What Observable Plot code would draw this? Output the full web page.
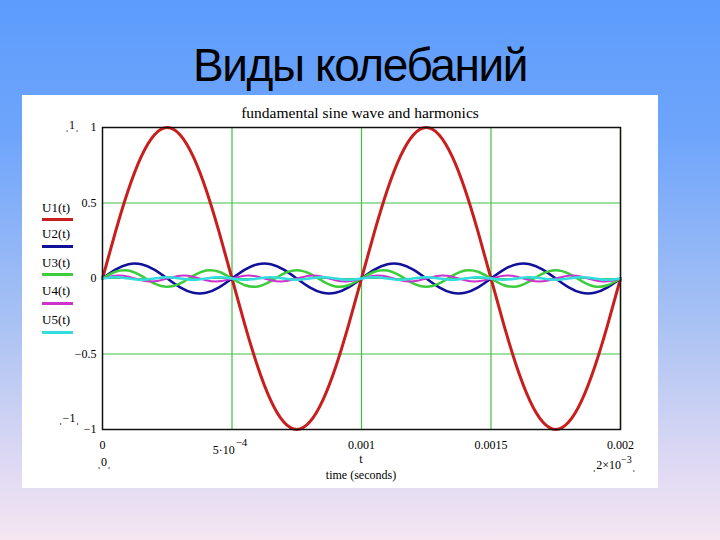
<!DOCTYPE html>
<html>
<head>
<meta charset="utf-8">
<script src="https://cdn.jsdelivr.net/npm/d3@7"></script>
<script src="https://cdn.jsdelivr.net/npm/@observablehq/plot@0.6"></script>
<style>
html,body{margin:0;padding:0;width:720px;height:540px;overflow:hidden}
body{position:relative;background:linear-gradient(to bottom,#5d9cfc 0%,#6ea5fb 25%,#a9c2f3 60%,#dcd8f3 85%,#f5e6f2 100%);font-family:"Liberation Sans",Arial,sans-serif}
#title{position:absolute;left:0;top:42px;width:720px;text-align:center;font-size:46px;line-height:46px;letter-spacing:-1.4px;color:#000}
#panel{position:absolute;left:22px;top:95px;width:636px;height:393px;background:#fff}
#panel svg{display:block;position:absolute;left:0;top:0}
.lab{position:absolute;font-family:"Liberation Serif","Times New Roman",serif;font-size:12px;line-height:14px;white-space:nowrap;color:#000;transform:translate(-50%,-50%)}
.leg{position:absolute;font-family:"Liberation Serif","Times New Roman",serif;font-size:13px;line-height:14px;white-space:nowrap;color:#000}
.sw{position:absolute;width:31px;height:3px}
</style>
</head>
<body>
<div id="title">Виды колебаний</div>
<div id="panel"></div>
<script>
const time = [0, 0.00005, 0.0001, 0.00015, 0.0002, 0.00025, 0.0003, 0.00035, 0.0004, 0.00045,
  0.0005, 0.00055, 0.0006, 0.00065, 0.0007, 0.00075, 0.0008, 0.00085, 0.0009, 0.00095,
  0.001, 0.00105, 0.0011, 0.00115, 0.0012, 0.00125, 0.0013, 0.00135, 0.0014, 0.00145,
  0.0015, 0.00155, 0.0016, 0.00165, 0.0017, 0.00175, 0.0018, 0.00185, 0.0019, 0.00195, 0.002];

const U1 = [0, 0.309, 0.588, 0.809, 0.951, 1, 0.951, 0.809, 0.588, 0.309,
  0, -0.309, -0.588, -0.809, -0.951, -1, -0.951, -0.809, -0.588, -0.309,
  0, 0.309, 0.588, 0.809, 0.951, 1, 0.951, 0.809, 0.588, 0.309,
  0, -0.309, -0.588, -0.809, -0.951, -1, -0.951, -0.809, -0.588, -0.309, 0];

const U2 = [0, 0.059, 0.095, 0.095, 0.059, 0, -0.059, -0.095, -0.095, -0.059,
  0, 0.059, 0.095, 0.095, 0.059, 0, -0.059, -0.095, -0.095, -0.059,
  0, 0.059, 0.095, 0.095, 0.059, 0, -0.059, -0.095, -0.095, -0.059,
  0, 0.059, 0.095, 0.095, 0.059, 0, -0.059, -0.095, -0.095, -0.059, 0];

const U3 = [0, 0.0445, 0.0523, 0.017, -0.0323, -0.055, -0.0323, 0.017, 0.0523, 0.0445,
  0, -0.0445, -0.0523, -0.017, 0.0323, 0.055, 0.0323, -0.017, -0.0523, -0.0445,
  0, 0.0445, 0.0523, 0.017, -0.0323, -0.055, -0.0323, 0.017, 0.0523, 0.0445,
  0, -0.0445, -0.0523, -0.017, 0.0323, 0.055, 0.0323, -0.017, -0.0523, -0.0445, 0];

const U4 = [0, 0.019, 0.012, -0.012, -0.019, 0, 0.019, 0.012, -0.012, -0.019,
  0, 0.019, 0.012, -0.012, -0.019, 0, 0.019, 0.012, -0.012, -0.019,
  0, 0.019, 0.012, -0.012, -0.019, 0, 0.019, 0.012, -0.012, -0.019,
  0, 0.019, 0.012, -0.012, -0.019, 0, 0.019, 0.012, -0.012, -0.019, 0];

const U5 = [0, 0.008, 0, -0.008, 0, 0.008, 0, -0.008, 0, 0.008,
  0, -0.008, 0, 0.008, 0, -0.008, 0, 0.008, 0, -0.008,
  0, 0.008, 0, -0.008, 0, 0.008, 0, -0.008, 0, 0.008,
  0, -0.008, 0, 0.008, 0, -0.008, 0, 0.008, 0, -0.008, 0];

const seriesNames = ["U1(t)", "U2(t)", "U3(t)", "U4(t)", "U5(t)"];
const seriesColors = ["#c81e1e", "#10109a", "#3ccc3c", "#cc33cc", "#33dddd"];
const seriesWidths = [3, 2.5, 2.5, 2, 2.5];
const seriesValues = [U1, U2, U3, U4, U5];

const xTicks = [0, 0.0005, 0.001, 0.0015, 0.002];
const xTickLabels = ["0", "", "0.001", "0.0015", "0.002"];
const xSciTick = ["5·10", "−4"];
const yTicks = [-1, -0.5, 0, 0.5, 1];
const yTickLabels = ["−1", "−0.5", "0", "0.5", "1"];
const xGrid = [0.0005, 0.001, 0.0015, 0.002];
const yGrid = [-0.5, 0, 0.5];

const chartTitle = "fundamental sine wave and harmonics";
const xVarLabel = "t";
const xUnitLabel = "time (seconds)";

const gridColor = "#40c040";

const lineMarks = seriesValues.map((vals, k) =>
  Plot.line(time.map((t, i) => ({t, v: vals[i]})), {
    x: "t", y: "v", stroke: seriesColors[k], strokeWidth: seriesWidths[k], curve: "natural"
  })
);

const chart = Plot.plot({
  width: 636, height: 393,
  marginLeft: 80, marginRight: 38, marginTop: 32, marginBottom: 59,
  style: {background: "#fff", fontFamily: "Liberation Serif, Times New Roman, serif", fontSize: "12px", color: "#000"},
  x: {domain: [0, 0.002]},
  y: {domain: [-1, 1]},
  marks: [
    Plot.ruleX(xGrid, {stroke: gridColor, strokeWidth: 1.2}),
    Plot.ruleY(yGrid, {stroke: gridColor, strokeWidth: 1.2}),
    ...lineMarks,
    Plot.frame({stroke: "#111", strokeWidth: 1.5}),
    Plot.axisX(xTicks, {tickSize: 0, tickPadding: 11, label: null, tickFormat: d => xTickLabels[xTicks.indexOf(d)], fontSize: 12}),
    Plot.axisY(yTicks, {tickSize: 0, tickPadding: 6, label: null, tickFormat: d => yTickLabels[yTicks.indexOf(d)], fontSize: 12})
  ]
});

const panel = document.getElementById("panel");
panel.appendChild(chart);

function lab(text, x, y, cls, size) {
  const d = document.createElement("div");
  d.className = cls || "lab";
  d.innerHTML = text;
  d.style.left = x + "px";
  d.style.top = y + "px";
  if (size) d.style.fontSize = size + "px";
  panel.appendChild(d);
  return d;
}

lab(chartTitle, 338, 18, "lab", 15.5);
lab(xVarLabel, 339, 364);
lab(xUnitLabel, 339, 380);
lab(xSciTick[0] + "<sup style=\"font-size:11px;vertical-align:8px;margin-left:1px\">" + xSciTick[1] + "</sup>", 208, 351);
lab("ˌ1ˌ", 50, 30);
lab("ˌ−1ˌ", 47, 323);
lab("ˌ0ˌ", 82, 367);
lab("ˌ2×10<sup style=\"font-size:10px;vertical-align:6px\">−3</sup>ˌ", 592, 367);

const legTops = [106, 132, 161, 189, 218];
const swTops = [123, 150, 178, 207, 236];
seriesNames.forEach((n, k) => {
  lab(n, 20, legTops[k], "leg");
  const s = document.createElement("div");
  s.className = "sw";
  s.style.left = "20px";
  s.style.top = swTops[k] + "px";
  s.style.background = seriesColors[k];
  panel.appendChild(s);
});
</script>
</body>
</html>
